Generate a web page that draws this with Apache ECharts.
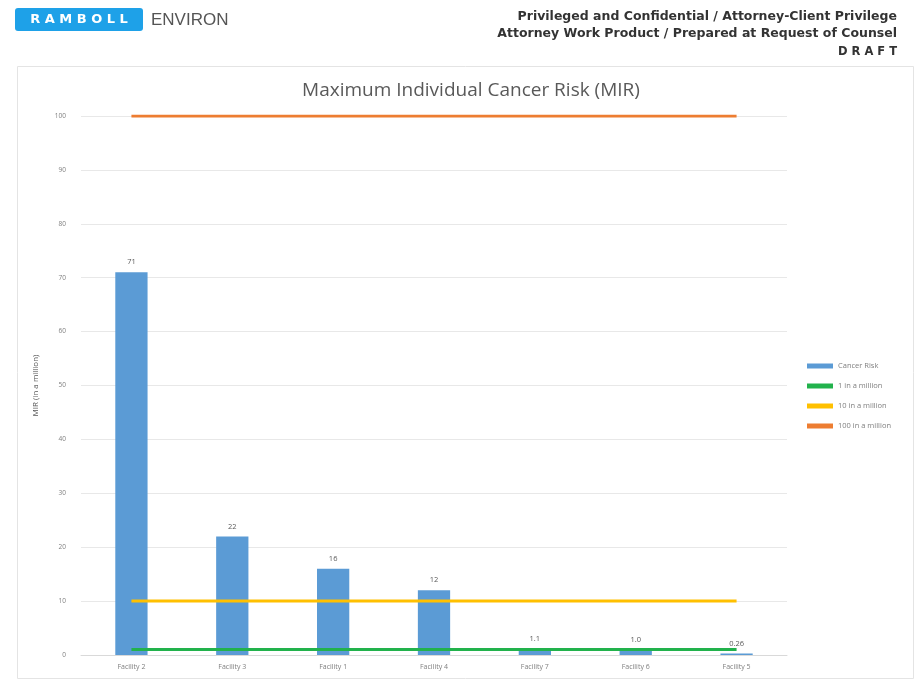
<!DOCTYPE html>
<html>
<head>
<meta charset="utf-8">
<title>Maximum Individual Cancer Risk (MIR)</title>
<script src="https://cdn.jsdelivr.net/npm/echarts@6/dist/echarts.min.js"></script>
<style>
  html, body { margin: 0; padding: 0; background: #ffffff; }
  #chart { width: 918px; height: 681px; }
</style>
</head>
<body>
<div id="chart"></div>
<script>
// Facilities in ranked order and their maximum individual cancer risk (per million)
var facilities = ['Facility 2', 'Facility 3', 'Facility 1', 'Facility 4', 'Facility 7', 'Facility 6', 'Facility 5'];
var cancerRisk = [71, 22, 16, 12, 1.1, 1.0, 0.26];

// Reference risk thresholds (per million)
var thresholdNames = ['1 in a million', '10 in a million', '100 in a million'];
var thresholdValues = [1, 10, 100];
var thresholdColors = ['#22b24c', '#ffc000', '#ed7d31'];

// Y axis range
var yMin = 0, yMax = 100, yStep = 10;

var chart = echarts.init(document.getElementById('chart'), null, { renderer: 'canvas' });

var thresholdSeries = thresholdNames.map(function (name, i) {
  return {
    name: name,
    type: 'line',
    data: facilities.map(function () { return thresholdValues[i]; }),
    symbol: 'none',
    lineStyle: { width: 3, color: thresholdColors[i] },
    itemStyle: { color: thresholdColors[i] },
    z: 3,
    silent: true
  };
});

var headerFont = 'bold 12.5px "DejaVu Sans"';

var option = {
  animation: false,
  backgroundColor: '#ffffff',
  graphic: [
    // chart frame
    { type: 'rect', shape: { x: 17.5, y: 66.5, width: 896, height: 612 },
      style: { fill: 'none', stroke: '#e4e4e4', lineWidth: 1 }, z: -1 },
    // company logo
    { type: 'rect', shape: { x: 15, y: 8, width: 128, height: 23, r: 3 },
      style: { fill: '#1ea1e8' } },
    { type: 'text', x: 79, y: 20,
      style: { text: 'R A M B O L L', fill: '#ffffff', font: 'bold 13px "DejaVu Sans"',
               textAlign: 'center', textVerticalAlign: 'middle' } },
    { type: 'text', x: 151, y: 20,
      style: { text: 'ENVIRON', fill: '#555555', font: '17px "Liberation Sans"',
               textAlign: 'left', textVerticalAlign: 'middle' } },
    // confidentiality header
    { type: 'text', x: 897, y: 17,
      style: { text: 'Privileged and Confidential / Attorney-Client Privilege', fill: '#333333',
               font: headerFont, textAlign: 'right', textVerticalAlign: 'middle' } },
    { type: 'text', x: 897, y: 34,
      style: { text: 'Attorney Work Product / Prepared at Request of Counsel', fill: '#333333',
               font: headerFont, textAlign: 'right', textVerticalAlign: 'middle' } },
    { type: 'text', x: 897, y: 52,
      style: { text: 'D R A F T', fill: '#333333',
               font: 'bold 11.5px "DejaVu Sans"', textAlign: 'right', textVerticalAlign: 'middle' } }
  ],
  title: {
    text: 'Maximum Individual Cancer Risk (MIR)',
    left: 466, top: 76, textAlign: 'center',
    textStyle: { color: '#595959', fontSize: 19, fontWeight: 'normal', fontFamily: '"Open Sans", "DejaVu Sans", sans-serif' }
  },
  legend: {
    orient: 'vertical',
    left: 802, top: 357,
    itemGap: 12,
    itemWidth: 26, itemHeight: 5,
    textStyle: { color: '#7f7f7f', fontSize: 7.5, fontFamily: '"Open Sans", sans-serif' },
    data: [
      { name: 'Cancer Risk', icon: 'rect' },
      { name: thresholdNames[0], icon: 'rect', itemStyle: { color: thresholdColors[0] } },
      { name: thresholdNames[1], icon: 'rect', itemStyle: { color: thresholdColors[1] } },
      { name: thresholdNames[2], icon: 'rect', itemStyle: { color: thresholdColors[2] } }
    ]
  },
  grid: { left: 81, right: 131, top: 116, bottom: 26, containLabel: false },
  xAxis: {
    type: 'category',
    data: facilities,
    axisLine: { lineStyle: { color: '#d9d9d9' } },
    axisTick: { show: false },
    axisLabel: { color: '#7f7f7f', fontSize: 7, margin: 8, fontFamily: '"Open Sans", sans-serif' }
  },
  yAxis: {
    type: 'value',
    min: yMin, max: yMax, interval: yStep,
    name: 'MIR (in a million)',
    nameLocation: 'middle',
    nameGap: 41,
    nameTextStyle: { color: '#595959', fontSize: 8, fontFamily: '"Open Sans", sans-serif' },
    axisLine: { show: false },
    axisTick: { show: false },
    axisLabel: { color: '#7f7f7f', fontSize: 6.5, margin: 15, fontFamily: '"Open Sans", sans-serif' },
    splitLine: { lineStyle: { color: '#e8e8e8', width: 1 } }
  },
  series: [
    {
      name: 'Cancer Risk',
      type: 'bar',
      data: cancerRisk,
      barWidth: '32%',
      itemStyle: { color: '#5b9bd5' },
      label: {
        show: true, position: 'top', distance: 6,
        color: '#595959', fontSize: 7.5, fontFamily: '"Open Sans", sans-serif',
        formatter: function (p) { return Number(p.value).toPrecision(2); }
      },
      z: 2
    }
  ].concat(thresholdSeries)
};

chart.setOption(option);
</script>
</body>
</html>
